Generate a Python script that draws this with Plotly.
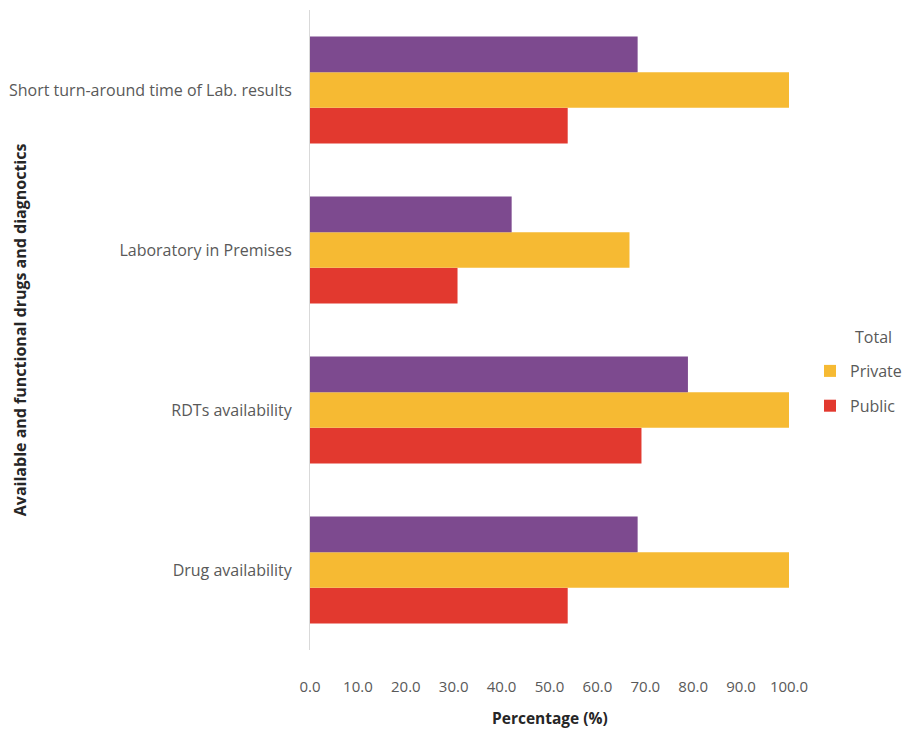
import plotly.graph_objects as go

# Categories listed bottom-to-top (Plotly draws the first category at the bottom)
categories = [
    "Drug availability",
    "RDTs availability",
    "Laboratory in Premises",
    "Short turn-around time of Lab. results",
]
total = [68.4, 78.9, 42.1, 68.4]
private = [100.0, 100.0, 66.7, 100.0]
public = [53.8, 69.2, 30.8, 53.8]
x_ticks = [0, 10, 20, 30, 40, 50, 60, 70, 80, 90, 100]

FONT = "Open Sans"
TEXT = "#595959"
W, H = 908, 731

fig = go.Figure()
# Traces added bottom-up within each group: Public (bottom), Private, Total (top)
fig.add_trace(go.Bar(y=categories, x=public, orientation="h", name="Public",
                     marker=dict(color="#E2392F", line=dict(width=0)),
                     legendgroup="pub", legendrank=2))
fig.add_trace(go.Bar(y=categories, x=private, orientation="h", name="Private",
                     marker=dict(color="#F6BA33", line=dict(width=0)),
                     legendgroup="priv", legendrank=1))
fig.add_trace(go.Bar(y=categories, x=total, orientation="h", name="Total",
                     marker=dict(color="#7D4A8F", line=dict(width=0)),
                     showlegend=False))

fig.update_layout(
    width=W, height=H,
    margin=dict(l=310, r=119, t=10, b=81, autoexpand=False),
    paper_bgcolor="white", plot_bgcolor="white",
    barmode="group", bargap=0.33, bargroupgap=0,
    font=dict(family=FONT, size=15, color=TEXT),
    showlegend=True,
    legend=dict(
        xref="container", yref="container",
        x=810 / W, y=1 - 354 / H, xanchor="left", yanchor="top",
        traceorder="grouped", tracegroupgap=11,
        font=dict(size=16, color=TEXT),
        itemwidth=30, bgcolor="rgba(0,0,0,0)",
    ),
    xaxis=dict(
        range=[0, 100], tickvals=x_ticks,
        ticktext=[f"{v:.1f}" for v in x_ticks],
        showgrid=False, zeroline=False, showline=False,
        ticks="", ticklabelstandoff=26,
        tickfont=dict(size=15, color=TEXT),
    ),
    yaxis=dict(
        showgrid=False, zeroline=False,
        showline=True, linecolor="#D9D9D9", linewidth=1,
        ticks="", ticklabelstandoff=14,
        tickfont=dict(size=16, color=TEXT),
    ),
    annotations=[
        dict(text="Total", xref="paper", yref="paper",
             x=(873 - 310) / 479, y=(650 - 337) / 640,
             xanchor="center", yanchor="middle",
             showarrow=False, font=dict(size=16, color=TEXT)),
        dict(text="<b>Percentage (%)</b>", xref="paper", yref="paper",
             x=0.5, y=-0.107, xanchor="center", yanchor="middle",
             showarrow=False, font=dict(size=15.5, color="#262626")),
        dict(text="<b>Available and functional drugs and diagnoctics</b>",
             xref="paper", yref="paper", x=-0.605, y=0.5,
             xanchor="center", yanchor="middle", textangle=-90,
             showarrow=False, font=dict(size=16, color="#262626")),
    ],
)

fig.write_html("out.html")
